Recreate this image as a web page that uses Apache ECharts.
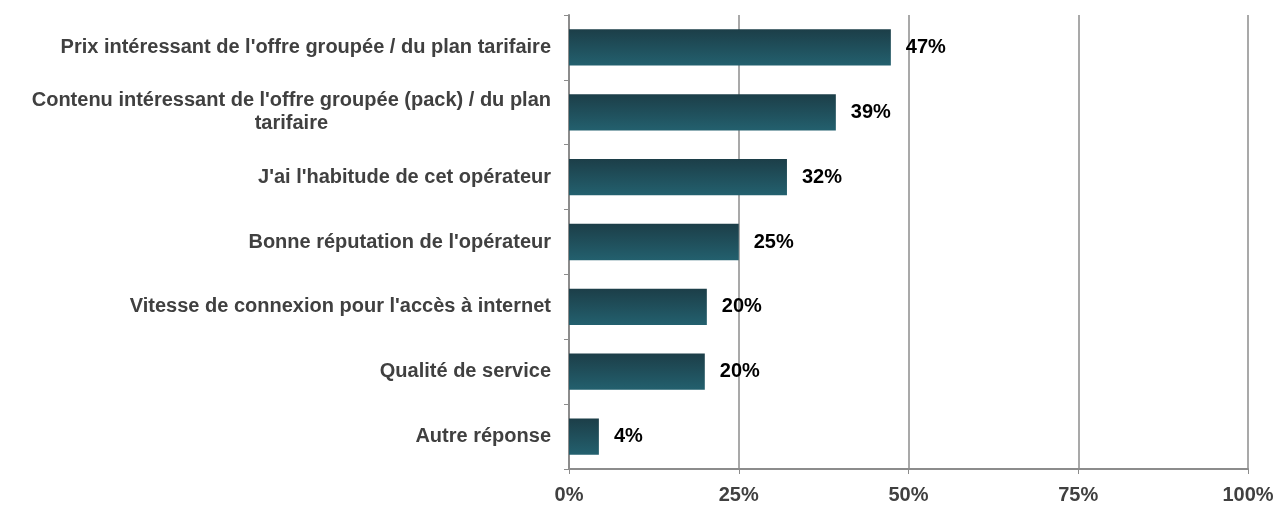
<!DOCTYPE html>
<html>
<head>
<meta charset="utf-8">
<script src="https://cdn.jsdelivr.net/npm/echarts@6/dist/echarts.min.js"></script>
<style>
  html, body { margin: 0; padding: 0; background: #fff; }
  #chart { width: 1278px; height: 505px; }
</style>
</head>
<body>
<div id="chart"></div>
<script>
// categories, top to bottom
const categories = [
  "Prix intéressant de l'offre groupée / du plan tarifaire",
  "Contenu intéressant de l'offre groupée (pack) / du plan\ntarifaire",
  "J'ai l'habitude de cet opérateur",
  "Bonne réputation de l'opérateur",
  "Vitesse de connexion pour l'accès à internet",
  "Qualité de service",
  "Autre réponse"
]
// percentages
const values = [47.4, 39.3, 32.1, 25.0, 20.3, 20.0, 4.4]
const xTicks = ['0%', '25%', '50%', '75%', '100%']

const chart = echarts.init(document.getElementById('chart'))

const option = {
  animation: false,
  grid: { left: 569, right: 30, top: 15, bottom: 35, containLabel: false },
  xAxis: {
    type: 'value',
    min: 0,
    max: 100,
    interval: 25,
    axisLine: { show: true, lineStyle: { color: '#8c8c8c', width: 2 } },
    axisTick: { show: true, length: 5, lineStyle: { color: '#8c8c8c', width: 1 } },
    splitLine: { show: true, lineStyle: { color: '#8c8c8c', width: 1.5 } },
    axisLabel: {
      formatter: (v) => xTicks[v / 25],
      color: '#404040',
      fontFamily: 'Liberation Sans, Arial',
      fontWeight: 'bold',
      fontSize: 20,
      margin: 16
    }
  },
  yAxis: {
    type: 'category',
    inverse: true,
    data: categories,
    axisLine: { show: true, lineStyle: { color: '#8c8c8c', width: 2 } },
    axisTick: { show: true, length: 5, alignWithLabel: false, lineStyle: { color: '#8c8c8c', width: 1 } },
    axisLabel: {
      margin: 18,
      color: '#404040',
      fontFamily: 'Liberation Sans, Arial',
      fontWeight: 'bold',
      fontSize: 20,
      lineHeight: 23,
      formatter: (v) => v.indexOf('\n') >= 0
        ? v.split('\n').map(s => '{c|' + s + '}').join('\n')
        : v,
      rich: {
        c: {
          align: 'center',
          color: '#404040',
          fontFamily: 'Liberation Sans, Arial',
          fontWeight: 'bold',
          fontSize: 20,
          lineHeight: 23
        }
      }
    }
  },
  series: [
    {
      type: 'bar',
      data: values,
      barCategoryGap: '44%',
      itemStyle: {
        color: new echarts.graphic.LinearGradient(0, 0, 0, 1, [
          { offset: 0, color: '#1c3e48' },
          { offset: 1, color: '#23606e' }
        ])
      },
      label: {
        show: true,
        position: 'right',
        distance: 15,
        formatter: (p) => Math.round(p.value) + '%',
        color: '#000',
        fontFamily: 'Liberation Sans, Arial',
        fontWeight: 'bold',
        fontSize: 20
      }
    }
  ]
}

chart.setOption(option)
</script>
</body>
</html>
